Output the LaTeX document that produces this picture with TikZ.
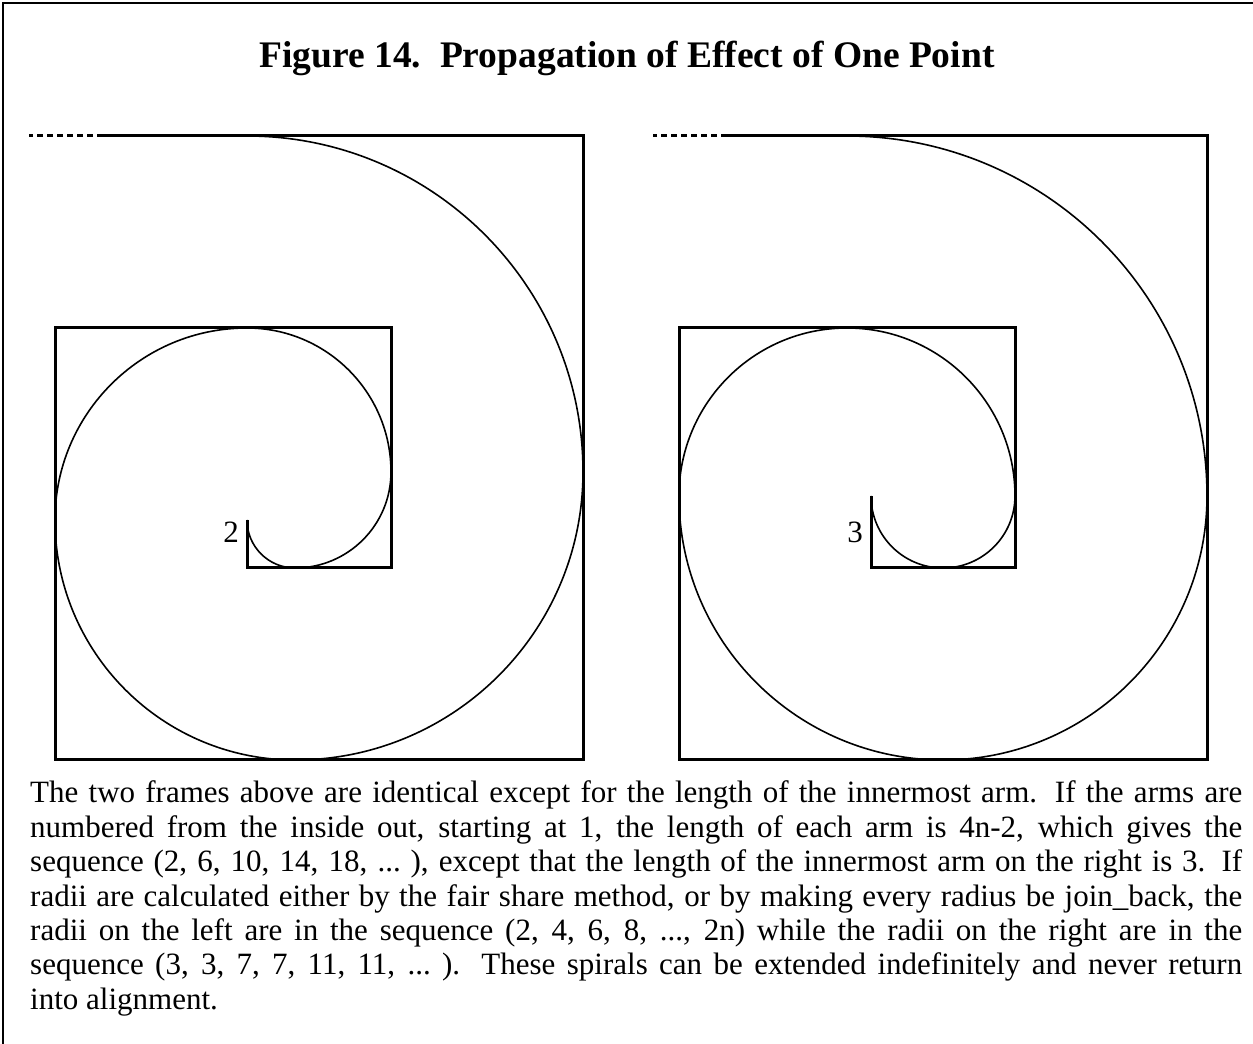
\documentclass[tikz,border=0pt]{standalone}
\usepackage{fontspec}
\setmainfont{Liberation Serif}
\begin{document}
\begin{tikzpicture}[x=1pt,y=1pt,
  frame/.style={line width=3pt},
  spiral/.style={line width=1.6pt},
  rim/.style={line width=2pt},
  lbl/.style={inner sep=0pt,font=\fontsize{31pt}{34.4pt}\selectfont}]
\useasboundingbox (0,0) rectangle (1253,1044);
\draw[rim] (3,0) -- (3,1041) -- (1253,1041);
\node[anchor=base,inner sep=0pt,font=\fontsize{37.5pt}{40pt}\selectfont\bfseries] (title) at (627,976) {Figure 14.\ \ Propagation of Effect of One Point};

\draw[frame] (247,524) -- (247,476) -- (391,476) -- (391,716) -- (55,716) -- (55,284) -- (583,284) -- (583,908) -- (103,908);
\draw[frame,dash pattern=on 6pt off 4pt] (103,908) -- (29,908);
\draw[spiral] (247,524) foreach \k in {1,...,7} {arc[start angle=90+90*\k,delta angle=90,radius=48*\k]};
\node[lbl,anchor=base east] (lenL) at (239,501) {2};

\draw[frame] (871,548) -- (871,476) -- (1015,476) -- (1015,716) -- (679,716) -- (679,284) -- (1207,284) -- (1207,908) -- (727,908);
\draw[frame,dash pattern=on 6pt off 4pt] (727,908) -- (653,908);
\draw[spiral] (871,548) foreach \r [count=\k] in {72,72,168,168,264,264,360} {arc[start angle=90+90*\k,delta angle=90,radius=\r]};
\node[lbl,anchor=base east] (lenR) at (863,501) {3};

\node[lbl,anchor=base west] (note) at (30,241) {\parbox[t]{1212pt}{\hyphenpenalty=10000\exhyphenpenalty=10000
The two frames above are identical except for the length of the innermost arm.  If the arms are\linebreak
numbered from the inside out, starting at 1, the length of each arm is 4n-2, which gives the\linebreak
sequence (2, 6, 10, 14, 18, ...\ ), except that the length of the innermost arm on the right is 3.  If\linebreak
radii are calculated either by the fair share method, or by making every radius be join\_back, the\linebreak
radii on the left are in the sequence (2, 4, 6, 8, ..., 2n) while the radii on the right are in the\linebreak
sequence (3, 3, 7, 7, 11, 11, ...\ ).  These spirals can be extended indefinitely and never return\linebreak
into alignment.}};
\end{tikzpicture}
\end{document}
